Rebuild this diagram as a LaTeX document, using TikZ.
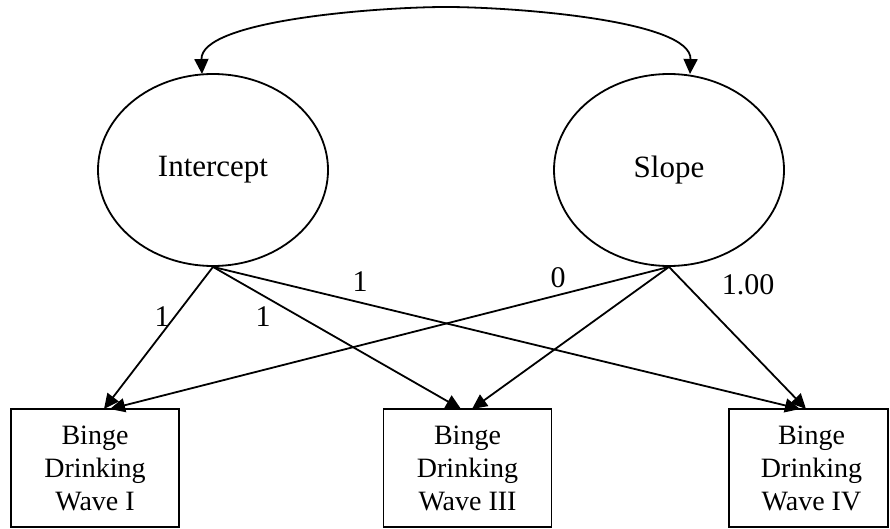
\documentclass[tikz,border=0pt]{standalone}
\usepackage{fontspec}
\setmainfont{Liberation Serif}
\usetikzlibrary{arrows.meta,shapes.geometric}
\begin{document}
\begin{tikzpicture}[x=1pt,y=-1pt,
  every path/.style={line width=1.8pt},
  latent/.style={draw, ellipse, minimum width=230pt, minimum height=192pt, inner sep=0pt,
    font=\fontsize{31}{35}\selectfont},
  obsbox/.style={draw, rectangle, minimum width=168pt, minimum height=118pt, inner sep=0pt,
    align=center, font=\fontsize{28}{33}\selectfont},
  lbl/.style={font=\fontsize{30}{34}\selectfont, inner sep=0pt},
  arr/.style={-{Triangle[length=15pt,width=14pt]}},
  biarr/.style={{Triangle[length=15pt,width=14pt]}-{Triangle[length=15pt,width=14pt]}}
]
\useasboundingbox (0,0) rectangle (890,529);
\node[latent] (I) at (213,170) {Intercept};
\node[latent] (S) at (669,170) {Slope};
\node[obsbox] (B1) at (95,468) {Binge\\Drinking\\Wave I};
\node[obsbox] (B2) at (467.5,468) {Binge\\Drinking\\Wave III};
\node[obsbox, minimum width=159pt] (B3) at (808.5,468) {\hspace*{6pt}Binge\\\hspace*{6pt}Drinking\\\hspace*{6pt}Wave IV};
\coordinate (Itop) at (202,74);
\coordinate (Stop) at (690,74);
\coordinate (b1i) at (104,409);
\coordinate (b1s) at (110,409);
\coordinate (b2i) at (461,409);
\coordinate (b2s) at (472,409);
\coordinate (b3i) at (800,409);
\coordinate (b3s) at (806,409);
\draw[biarr] (Itop) .. controls (200,20) and (380,7) .. (446,7) .. controls (512,7) and (692,20) .. (Stop);
\draw[arr] (I.south) -- (b1i);
\draw[arr] (I.south) -- (b2i);
\draw[arr] (I.south) -- (b3i);
\draw[arr] (S.south) -- (b1s);
\draw[arr] (S.south) -- (b2s);
\draw[arr] (S.south) -- (b3s);
\node[lbl] (l1) at (162,317) {1};
\node[lbl] (l2) at (263,317) {1};
\node[lbl] (l3) at (360,282) {1};
\node[lbl] (l4) at (558,278) {0};
\node[lbl] (l5) at (748,285) {1.00};
\end{tikzpicture}
\end{document}
